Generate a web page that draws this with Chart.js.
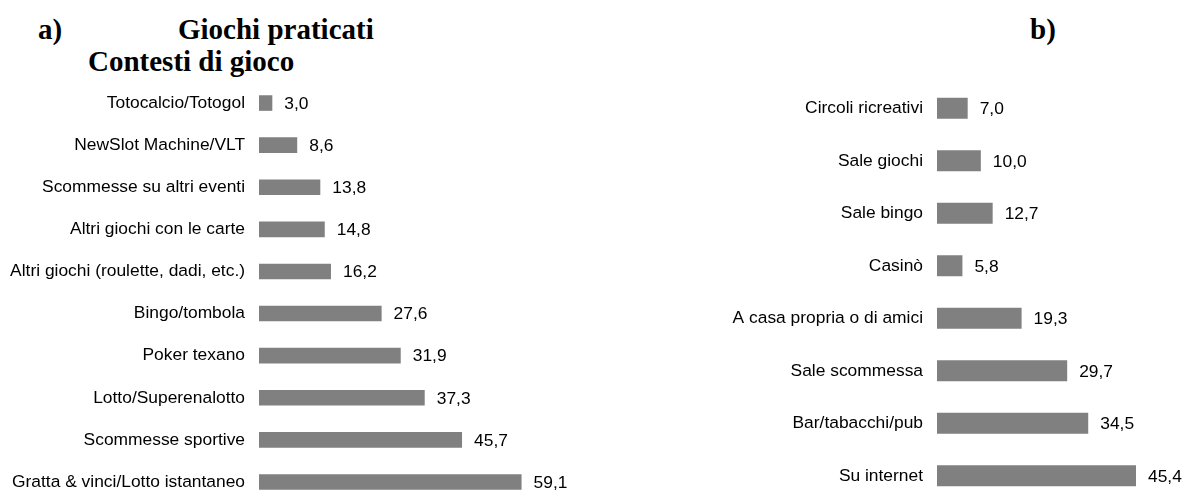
<!DOCTYPE html>
<html>
<head>
<meta charset="utf-8">
<script src="https://cdn.jsdelivr.net/npm/chart.js@4/dist/chart.umd.min.js"></script>
<style>
  html, body { margin: 0; padding: 0; width: 1197px; height: 493px; overflow: hidden; background: #fff; }
  .title { position: absolute; font-family: "Liberation Serif", "Times New Roman", serif; font-weight: bold; font-size: 29px; line-height: 29px; color: #000; white-space: nowrap; }
  .box { position: absolute; }
</style>
</head>
<body>
<div class="title" style="left:38px; top:15px;">a)</div>
<div class="title" style="left:178px; top:15px;">Giochi praticati</div>
<div class="title" style="left:88px; top:47px;">Contesti di gioco</div>
<div class="title" style="left:1030px; top:15px;">b)</div>

<div class="box" style="left:0px; top:82px; width:570px; height:421px;"><canvas id="chartA"></canvas></div>
<div class="box" style="left:690px; top:82px; width:510px; height:420px;"><canvas id="chartB"></canvas></div>

<script>
// a) Giochi praticati
const giochiLabels = [
  "Totocalcio/Totogol",
  "NewSlot Machine/VLT",
  "Scommesse su altri eventi",
  "Altri giochi con le carte",
  "Altri giochi (roulette, dadi, etc.)",
  "Bingo/tombola",
  "Poker texano",
  "Lotto/Superenalotto",
  "Scommesse sportive",
  "Gratta & vinci/Lotto istantaneo"
];
const giochiValues = [3.0, 8.6, 13.8, 14.8, 16.2, 27.6, 31.9, 37.3, 45.7, 59.1];

// b) Contesti di gioco
const contestiLabels = [
  "Circoli ricreativi",
  "Sale giochi",
  "Sale bingo",
  "Casinò",
  "A casa propria o di amici",
  "Sale scommessa",
  "Bar/tabacchi/pub",
  "Su internet"
];
const contestiValues = [7.0, 10.0, 12.7, 5.8, 19.3, 29.7, 34.5, 45.4];

const FONT = '"Liberation Sans", Arial, sans-serif';

// write the value next to the end of each bar, italian decimal comma
const valueLabels = {
  id: 'valueLabels',
  afterDatasetsDraw(chart) {
    const ctx = chart.ctx;
    const meta = chart.getDatasetMeta(0);
    const data = chart.data.datasets[0].data;
    ctx.save();
    ctx.font = '17.4px ' + FONT;
    ctx.fillStyle = '#000';
    ctx.textAlign = 'left';
    ctx.textBaseline = 'middle';
    meta.data.forEach((bar, i) => {
      ctx.fillText(data[i].toFixed(1).replace('.', ','), bar.x + 12, bar.y + 1);
    });
    ctx.restore();
  }
};

function makeChart(id, labels, values, axisWidth, xMax, barPct) {
  return new Chart(document.getElementById(id), {
    type: 'bar',
    data: {
      labels: labels,
      datasets: [{
        data: values,
        backgroundColor: '#808080',
        borderWidth: 0,
        barPercentage: barPct,
        categoryPercentage: 1
      }]
    },
    options: {
      indexAxis: 'y',
      responsive: true,
      maintainAspectRatio: false,
      animation: false,
      layout: { padding: 0 },
      plugins: { legend: { display: false }, tooltip: { enabled: false } },
      scales: {
        x: { display: false, min: 0, max: xMax },
        y: {
          grid: { display: false, drawTicks: false },
          border: { display: false },
          ticks: { font: { family: FONT, size: 17.4 }, color: '#000', padding: 14 },
          afterFit(scale) {
            scale.width = axisWidth;
            scale.paddingTop = 0;
            scale.paddingBottom = 0;
          }
        }
      }
    },
    plugins: [valueLabels]
  });
}

makeChart('chartA', giochiLabels, giochiValues, 259, 70, 0.37);
makeChart('chartB', contestiLabels, contestiValues, 247, 60, 0.4);
</script>
</body>
</html>
